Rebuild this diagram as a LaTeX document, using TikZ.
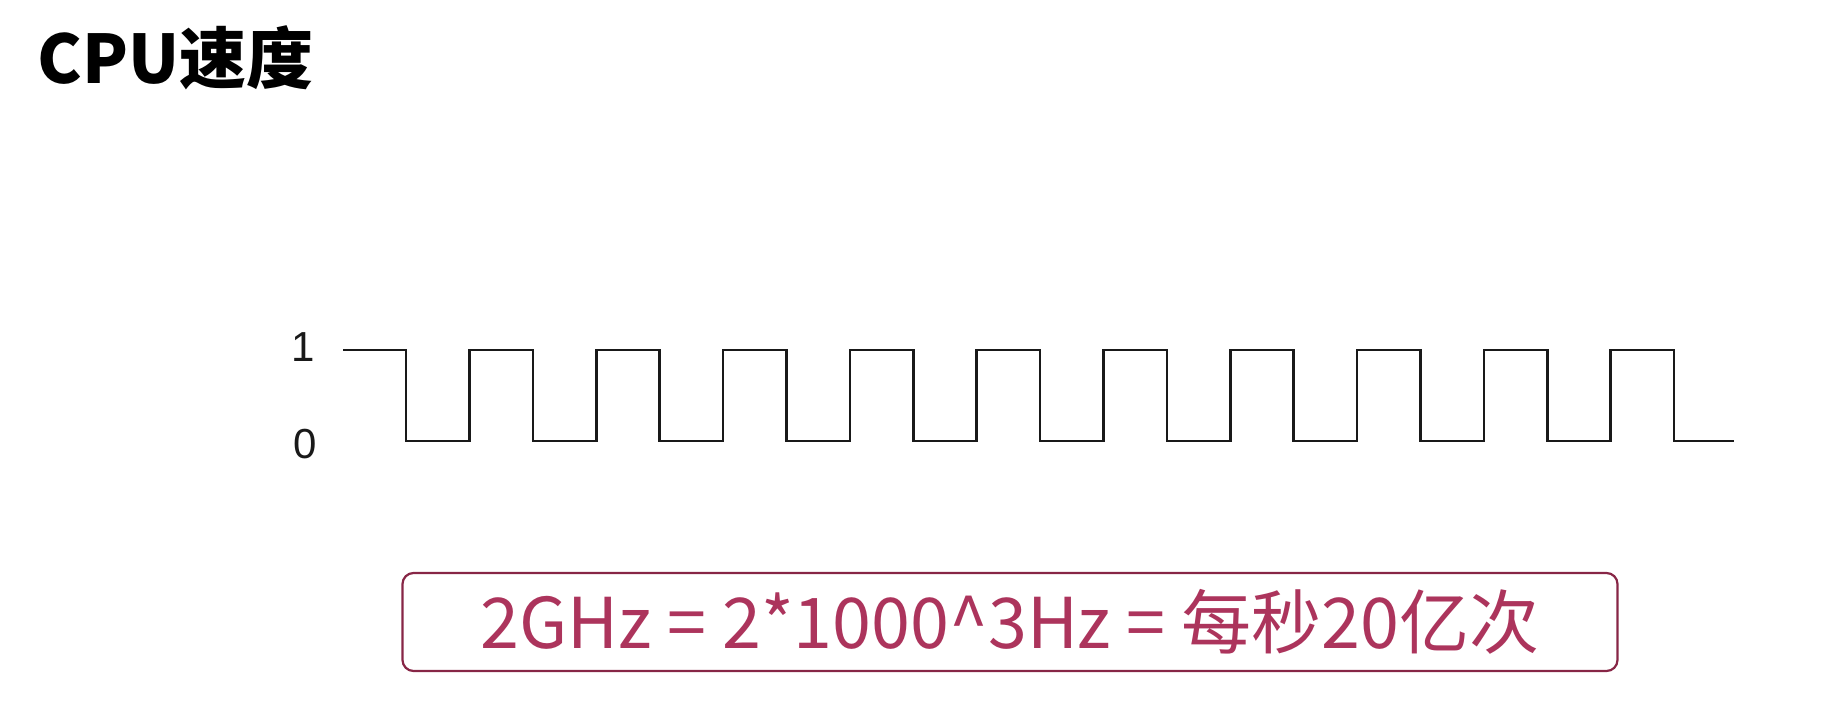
\documentclass[tikz,border=0pt]{standalone}
\usepackage{fontspec}
\usepackage{xcolor}
\usepackage{tikz}
\setmainfont{Liberation Sans}
\newfontfamily\cjk{Noto Sans CJK SC}
\definecolor{boxred}{RGB}{135,38,70}
\definecolor{textred}{RGB}{172,52,92}

\begin{document}
\begin{tikzpicture}[x=1pt,y=-1pt,
    wave/.style={line width=2.6pt,black!90,line join=miter},
    level/.style={font=\fontsize{42}{48}\selectfont,text=black!90},
    ratebox/.style={draw=boxred,line width=2.2pt,rounded corners=11pt,
      minimum width=1215pt,minimum height=98pt,inner sep=0pt,
      text=textred,font=\cjk\fontsize{70}{80}\selectfont}]
    \useasboundingbox (0,0) rectangle (1836,712);
    \node[anchor=west,font=\cjk\bfseries\fontsize{67}{76}\selectfont] (title) at (34,58) {CPU速度};
    % levels
    \node[level] (one) at (303,347) {1};
    \node[level] (zero) at (305,444) {0};
    % clock signal
    \draw[wave] (343,350) -- (406,350)
      foreach \k in {0,...,9} { -- ++(0,91) -- ++(63.4,0) -- ++(0,-91) -- ++(63.4,0) }
      -- ++(0,91) -- (1734,441);
    \node[ratebox] (rate) at (1010,622) {2GHz = 2*1000\string^3Hz = 每秒20亿次};
  \end{tikzpicture}
\end{document}
